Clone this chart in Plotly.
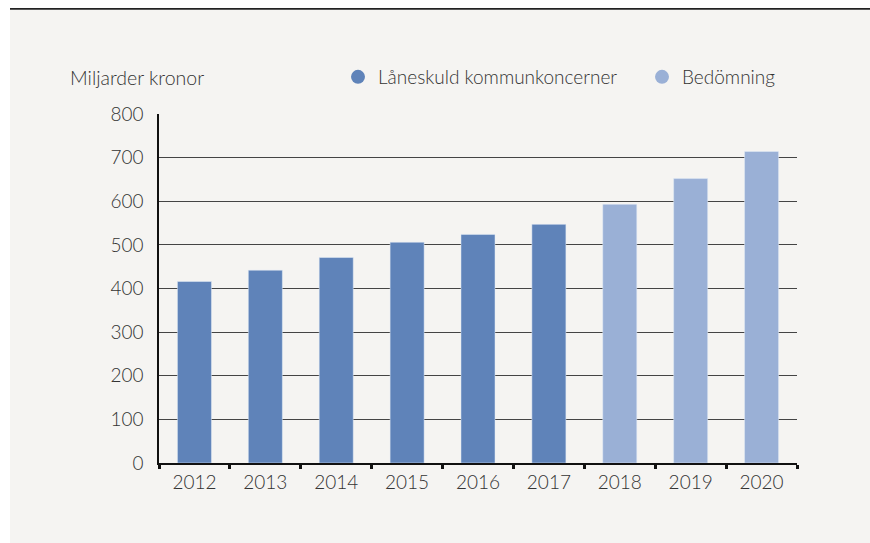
import plotly.graph_objects as go

# data
years = ['2012', '2013', '2014', '2015', '2016', '2017', '2018', '2019', '2020']
laneskuld = [416, 442, 471, 506, 524, 547]   # 2012-2017
bedomning = [593, 652, 714]                  # 2018-2020, estimate
y_ticks = [0, 100, 200, 300, 400, 500, 600, 700, 800]

W, H = 870, 543
M = dict(l=159, r=73, t=114, b=80)
pw = W - M['l'] - M['r']
ph = H - M['t'] - M['b']

DARK = '#5f83b9'
LIGHT = '#9ab0d6'
BG = '#f5f4f2'
TXT = '#333333'
FONT = 'Lato'


def px_x(p):
    # figure pixel -> paper x
    return (p - M['l']) / pw


def px_y(p):
    # figure pixel (from top) -> paper y
    return 1 - (p - M['t']) / ph


fig = go.Figure()

fig.add_trace(go.Bar(x=years[:len(laneskuld)], y=laneskuld, marker_color=DARK,
                     showlegend=False, hoverinfo='skip'))
fig.add_trace(go.Bar(x=years[len(laneskuld):], y=bedomning, marker_color=LIGHT,
                     showlegend=False, hoverinfo='skip'))

# round legend markers
fig.add_trace(go.Scatter(x=[None], y=[None], mode='markers', name='Låneskuld kommunkoncerner',
                         marker=dict(color=DARK, size=14)))
fig.add_trace(go.Scatter(x=[None], y=[None], mode='markers', name='Bedömning',
                         marker=dict(color=LIGHT, size=14)))

fig.update_layout(
    width=W, height=H,
    margin=dict(M, autoexpand=False),
    paper_bgcolor=BG,
    plot_bgcolor=BG,
    barmode='overlay',
    bargap=0.52,
    font=dict(family=FONT, size=18, color=TXT, weight=300),
    showlegend=True,
    legend=dict(orientation='h', xref='container', yref='container',
                x=338 / W, y=1 - 77 / H, xanchor='left', yanchor='middle',
                bgcolor='rgba(0,0,0,0)', font=dict(size=19, color=TXT, weight=300),
                entrywidth=259, itemclick=False),
    xaxis=dict(type='category', categoryorder='array', categoryarray=years,
               showline=True, linecolor='#111', linewidth=2, automargin=False,
               ticks='outside', tickson='boundaries', ticklen=4, tickwidth=2.5,
               tickcolor='#111', showgrid=False,
               tickfont=dict(size=19, color=TXT, weight=300),
               ticklabelstandoff=1),
    xaxis2=dict(overlaying='x', anchor='y', side='bottom', range=[-0.5, len(years) - 0.5],
                tickvals=[i - 0.5 for i in range(len(years) + 1)], ticks='inside',
                ticklen=4, tickwidth=2.5, tickcolor='#111', showticklabels=False,
                showgrid=False, showline=False, zeroline=False, automargin=False),
    yaxis=dict(range=[0, 800], tickvals=y_ticks, showline=True, linecolor='#111',
               linewidth=1.5, showgrid=True, gridcolor='#444', gridwidth=1.2,
               zeroline=False, ticks='', tickfont=dict(size=19, color=TXT, weight=300),
               ticklabelstandoff=10, automargin=False),
    annotations=[dict(text='Miljarder kronor', xref='paper', yref='paper',
                      x=px_x(68), y=px_y(77), xanchor='left', yanchor='middle',
                      showarrow=False, font=dict(size=19.5, color=TXT, weight=300))],
    shapes=[
        # white frame outside the grey panel and the rule on top
        dict(type='rect', xref='paper', yref='paper', x0=px_x(0), x1=px_x(10),
             y0=px_y(H), y1=px_y(0), fillcolor='white', line_width=0, layer='below'),
        dict(type='rect', xref='paper', yref='paper', x0=px_x(0), x1=px_x(W),
             y0=px_y(9.5), y1=px_y(0), fillcolor='white', line_width=0, layer='below'),
        dict(type='line', xref='paper', yref='paper', x0=px_x(10), x1=px_x(W),
             y0=px_y(8.8), y1=px_y(8.8), line=dict(color='#222', width=1.8)),
    ],
)

fig.write_html('out.html', config={'displayModeBar': False},
               post_script="document.body.style.margin='0';document.body.style.padding='0';")
